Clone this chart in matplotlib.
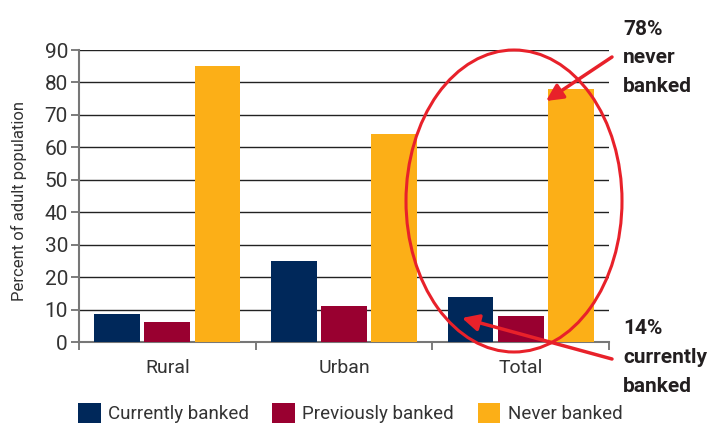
import matplotlib
matplotlib.use("Agg")
import matplotlib.pyplot as plt
import numpy as np
from matplotlib.patches import Ellipse, FancyArrowPatch

plt.rcParams['font.family'] = ['Roboto', 'DejaVu Sans']

categories = ["Rural", "Urban", "Total"]
currently = [8.6, 25, 14]
previously = [6.3, 11, 8]
never = [85, 64, 78]
series_names = ["Currently banked", "Previously banked", "Never banked"]
colors = ["#00285a", "#990030", "#fcaf17"]
yticks = [0, 10, 20, 30, 40, 50, 60, 70, 80, 90]
note_top = ["78%", "never", "banked"]
note_bottom = ["14%", "currently", "banked"]

fig = plt.figure(figsize=(7.1, 4.26), dpi=100)
W, H = 710, 426
ax = fig.add_axes([79 / W, (H - 342) / H, (609 - 79) / W, (342 - 50) / H])

x = np.arange(len(categories))
bw = 0.26
gap = 0.024
offsets = [-(bw + gap), 0, bw + gap]
handles = []
for vals, off, col, name in zip([currently, previously, never], offsets, colors, series_names):
    b = ax.bar(x + off, vals, width=bw, color=col, label=name, zorder=3)
    handles.append(b)

ax.set_xlim(-0.5, 2.5)
ax.set_ylim(0, 90)
ax.set_yticks(yticks)
ax.set_xticks(x)
ax.set_xticklabels(categories, fontsize=14, color="#333333")
ax.set_xticks([-0.5, 0.5, 1.5, 2.5], minor=True)
ax.tick_params(axis='x', which='major', length=0, pad=12)
ax.tick_params(axis='x', which='minor', length=6, color="#666666", width=1.2)
ax.tick_params(axis='y', length=6, color="#666666", width=1.2, labelsize=15, labelcolor="#333333", pad=2)
ax.grid(axis='y', color="#222222", linewidth=1.0, zorder=0)
for s in ["top", "right"]:
    ax.spines[s].set_visible(False)
for s in ["left", "bottom"]:
    ax.spines[s].set_color("#777777")
    ax.spines[s].set_linewidth(1.5)
ax.set_ylabel("Percent of adult population", fontsize=12, color="#333333")
ax.yaxis.set_label_coords((27 - 79) / (609 - 79), (342 - 201) / 292)

leg = fig.legend(handles=handles, labels=series_names, loc='center left',
                 bbox_to_anchor=(78 / W, 1 - 413 / H), ncol=3, frameon=False,
                 fontsize=13.5, handlelength=1.2, handleheight=1.25,
                 handletextpad=0.4, columnspacing=1.25, labelcolor="#333333",
                 borderaxespad=0, borderpad=0)

red = "#e8212a"
ell = Ellipse(((406 + 622) / 2 / W, 1 - 201 / H), 216 / W, 302 / H,
              transform=fig.transFigure, fill=False, edgecolor=red, linewidth=2.2)
fig.add_artist(ell)

a1 = FancyArrowPatch((612 / W, 1 - 57 / H), (546 / W, 1 - 101 / H), transform=fig.transFigure,
                     arrowstyle='-|>,head_length=10,head_width=5', color=red, linewidth=2.5,
                     shrinkA=0, shrinkB=0)
fig.add_artist(a1)
a2 = FancyArrowPatch((612 / W, 1 - 359 / H), (462 / W, 1 - 318 / H), transform=fig.transFigure,
                     arrowstyle='-|>,head_length=10,head_width=5', color=red, linewidth=2.5,
                     shrinkA=0, shrinkB=0)
fig.add_artist(a2)

for txt, yb in zip(note_top, [35, 63, 92]):
    fig.text(623 / W, 1 - yb / H, txt, fontsize=15, fontweight='bold',
             color="#231f20", va='baseline', ha='left')
for txt, yb in zip(note_bottom, [334, 363, 392]):
    fig.text(623 / W, 1 - yb / H, txt, fontsize=15, fontweight='bold',
             color="#231f20", va='baseline', ha='left')

fig.savefig("out.png", dpi=100)
